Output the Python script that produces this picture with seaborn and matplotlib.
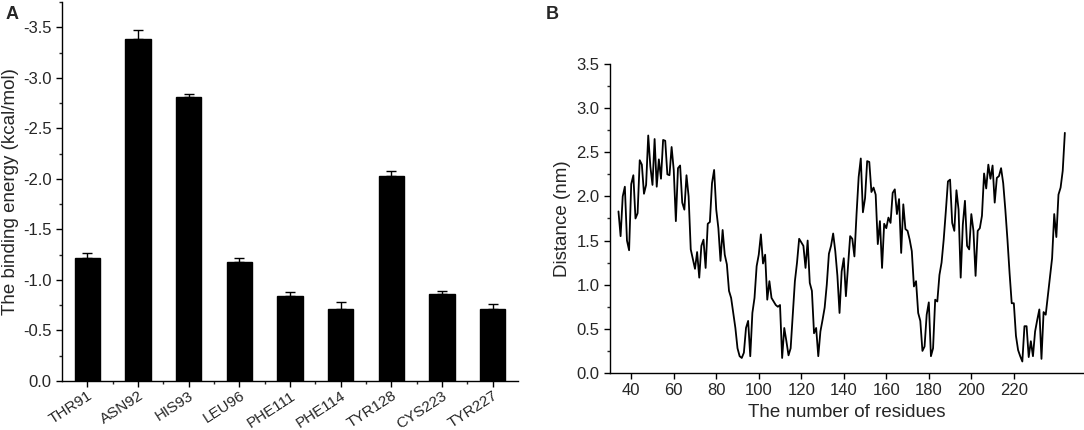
import numpy as np
import pandas as pd
import matplotlib
matplotlib.use("Agg")
import matplotlib.pyplot as plt
from matplotlib.ticker import MultipleLocator
import seaborn as sns

# ---- Panel A data ----
residue_names = ["THR91", "ASN92", "HIS93", "LEU96", "PHE111",
                 "PHE114", "TYR128", "CYS223", "TYR227"]
binding_energy = [-1.22, -3.39, -2.81, -1.18, -0.845, -0.71, -2.03, -0.86, -0.715]
energy_error = [0.045, 0.08, 0.03, 0.04, 0.033, 0.07, 0.05, 0.026, 0.05]

# ---- Panel B data ----
residue_start = 34
distance_nm = [
    1.83, 1.55, 2.00, 2.11, 1.50, 1.39, 2.14, 2.24, 1.75, 1.81,   # 34-43
    2.41, 2.36, 2.03, 2.13, 2.69, 2.34, 2.13, 2.65, 2.11, 2.42,   # 44-53
    2.20, 2.64, 2.63, 2.25, 2.24, 2.56, 2.30, 1.72, 2.32, 2.35,   # 54-63
    1.93, 1.85, 2.24, 2.00, 1.40, 1.29, 1.18, 1.37, 1.08, 1.44,   # 64-73
    1.51, 1.19, 1.69, 1.71, 2.15, 2.30, 1.85, 1.64, 1.27, 1.62,   # 74-83
    1.34, 1.23, 0.93, 0.85, 0.68, 0.51, 0.28, 0.19, 0.17, 0.23,   # 84-93
    0.51, 0.59, 0.19, 0.68, 0.85, 1.21, 1.34, 1.57, 1.24, 1.34,   # 94-103
    0.83, 1.04, 0.85, 0.81, 0.77, 0.75, 0.77, 0.17, 0.51, 0.36,   # 104-113
    0.20, 0.28, 0.66, 1.04, 1.25, 1.52, 1.48, 1.44, 1.19, 1.50,   # 114-123
    1.02, 0.93, 0.45, 0.51, 0.19, 0.47, 0.60, 0.74, 1.00, 1.35,   # 124-133
    1.44, 1.58, 1.38, 1.10, 0.68, 1.15, 1.30, 0.87, 1.21, 1.55,   # 134-143
    1.52, 1.32, 1.80, 2.22, 2.43, 1.82, 1.98, 2.40, 2.39, 2.05,   # 144-153
    2.10, 2.02, 1.46, 1.72, 1.19, 1.69, 1.64, 1.76, 1.70, 2.04,   # 154-163
    2.08, 1.80, 1.97, 1.36, 1.91, 1.63, 1.61, 1.51, 1.38, 0.98,   # 164-173
    1.04, 0.68, 0.59, 0.25, 0.30, 0.66, 0.80, 0.19, 0.28, 0.83,   # 174-183
    0.81, 1.11, 1.25, 1.51, 1.83, 2.17, 2.19, 1.70, 1.61, 2.07,   # 184-193
    1.85, 1.08, 1.68, 1.95, 1.44, 1.40, 1.80, 1.61, 1.10, 1.61,   # 194-203
    1.64, 1.78, 2.26, 2.09, 2.36, 2.20, 2.35, 1.93, 2.21, 2.23,   # 204-213
    2.32, 2.15, 1.85, 1.51, 1.13, 0.79, 0.79, 0.42, 0.26, 0.19,   # 214-223
    0.13, 0.53, 0.53, 0.18, 0.36, 0.19, 0.47, 0.60, 0.72, 0.16,   # 224-233
    0.69, 0.66, 0.87, 1.08, 1.30, 1.80, 1.54, 2.02, 2.10, 2.29,   # 234-243
    2.72,                                                         # 244
]
residue_numbers = list(range(residue_start, residue_start + len(distance_nm)))
b_xticks = [40, 60, 80, 100, 120, 140, 160, 180, 200, 220]

sns.set_style("ticks")
plt.rcParams["font.family"] = ["Liberation Sans", "DejaVu Sans"]
plt.rcParams["axes.unicode_minus"] = False
plt.rcParams["xtick.direction"] = "out"
plt.rcParams["ytick.direction"] = "out"

TICK_FS = 12
LABEL_FS = 13.5

fig = plt.figure(figsize=(10.84, 4.30), dpi=100)
axA = fig.add_axes([0.0572, 0.114, 0.4208, 0.881])
axB = fig.add_axes([0.5627, 0.1326, 0.4363, 0.7186])

# ---- Panel A ----
dfA = pd.DataFrame({"res": residue_names, "energy": binding_energy})
sns.barplot(data=dfA, x="res", y="energy", color="black", width=0.5,
            errorbar=None, ax=axA, edgecolor="black", saturation=1)
pos = np.arange(len(residue_names))
axA.errorbar(pos, binding_energy,
             yerr=[energy_error, np.zeros(len(energy_error))],
             fmt="none", ecolor="black", elinewidth=1.0, capsize=3.5, capthick=1.0)
axA.set_ylim(0, -3.75)
axA.set_xlim(-0.5, 8.5)
axA.yaxis.set_minor_locator(MultipleLocator(0.25))
axA.set_yticks([0, -0.5, -1.0, -1.5, -2.0, -2.5, -3.0, -3.5])
axA.set_yticklabels(["0.0", "-0.5", "-1.0", "-1.5", "-2.0", "-2.5", "-3.0", "-3.5"])
axA.set_xticks(pos)
axA.set_xticks(pos[:-1] + 0.5, minor=True)
axA.set_xticklabels(residue_names, rotation=33, ha="right", rotation_mode="anchor")
axA.set_xlabel("")
axA.set_ylabel("The binding energy (kcal/mol)", fontsize=LABEL_FS, labelpad=3)
axA.tick_params(axis="y", labelsize=TICK_FS, length=4, width=1, color="black")
axA.tick_params(axis="x", labelsize=11, length=4, width=1, color="black", pad=1.5)
axA.tick_params(which="minor", length=2.5, width=1)
for s in ["top", "right"]:
    axA.spines[s].set_visible(False)
for s in ["left", "bottom"]:
    axA.spines[s].set_linewidth(1.0)
    axA.spines[s].set_color("black")

# ---- Panel B ----
dfB = pd.DataFrame({"residue": residue_numbers, "distance": distance_nm})
sns.lineplot(data=dfB, x="residue", y="distance", color="black",
             linewidth=1.3, ax=axB)
axB.set_xlim(30, 252.5)
axB.set_ylim(0, 3.5)
axB.set_xticks(b_xticks)
axB.yaxis.set_major_locator(MultipleLocator(0.5))
axB.yaxis.set_minor_locator(MultipleLocator(0.25))
axB.set_yticklabels([f"{v:.1f}" for v in axB.get_yticks()])
axB.set_xlabel("The number of residues", fontsize=LABEL_FS)
axB.set_ylabel("Distance (nm)", fontsize=LABEL_FS)
axB.tick_params(axis="both", labelsize=TICK_FS, length=4, width=1, color="black")
axB.tick_params(which="minor", length=2.5, width=1)
for s in ["top", "right"]:
    axB.spines[s].set_visible(False)
for s in ["left", "bottom"]:
    axB.spines[s].set_linewidth(1.0)
    axB.spines[s].set_color("black")

fig.text(0.005, 0.985, "A", fontsize=13, fontweight="bold", va="top", ha="left")
fig.text(0.503, 0.985, "B", fontsize=13, fontweight="bold", va="top", ha="left")

fig.savefig("out.png", dpi=100)
